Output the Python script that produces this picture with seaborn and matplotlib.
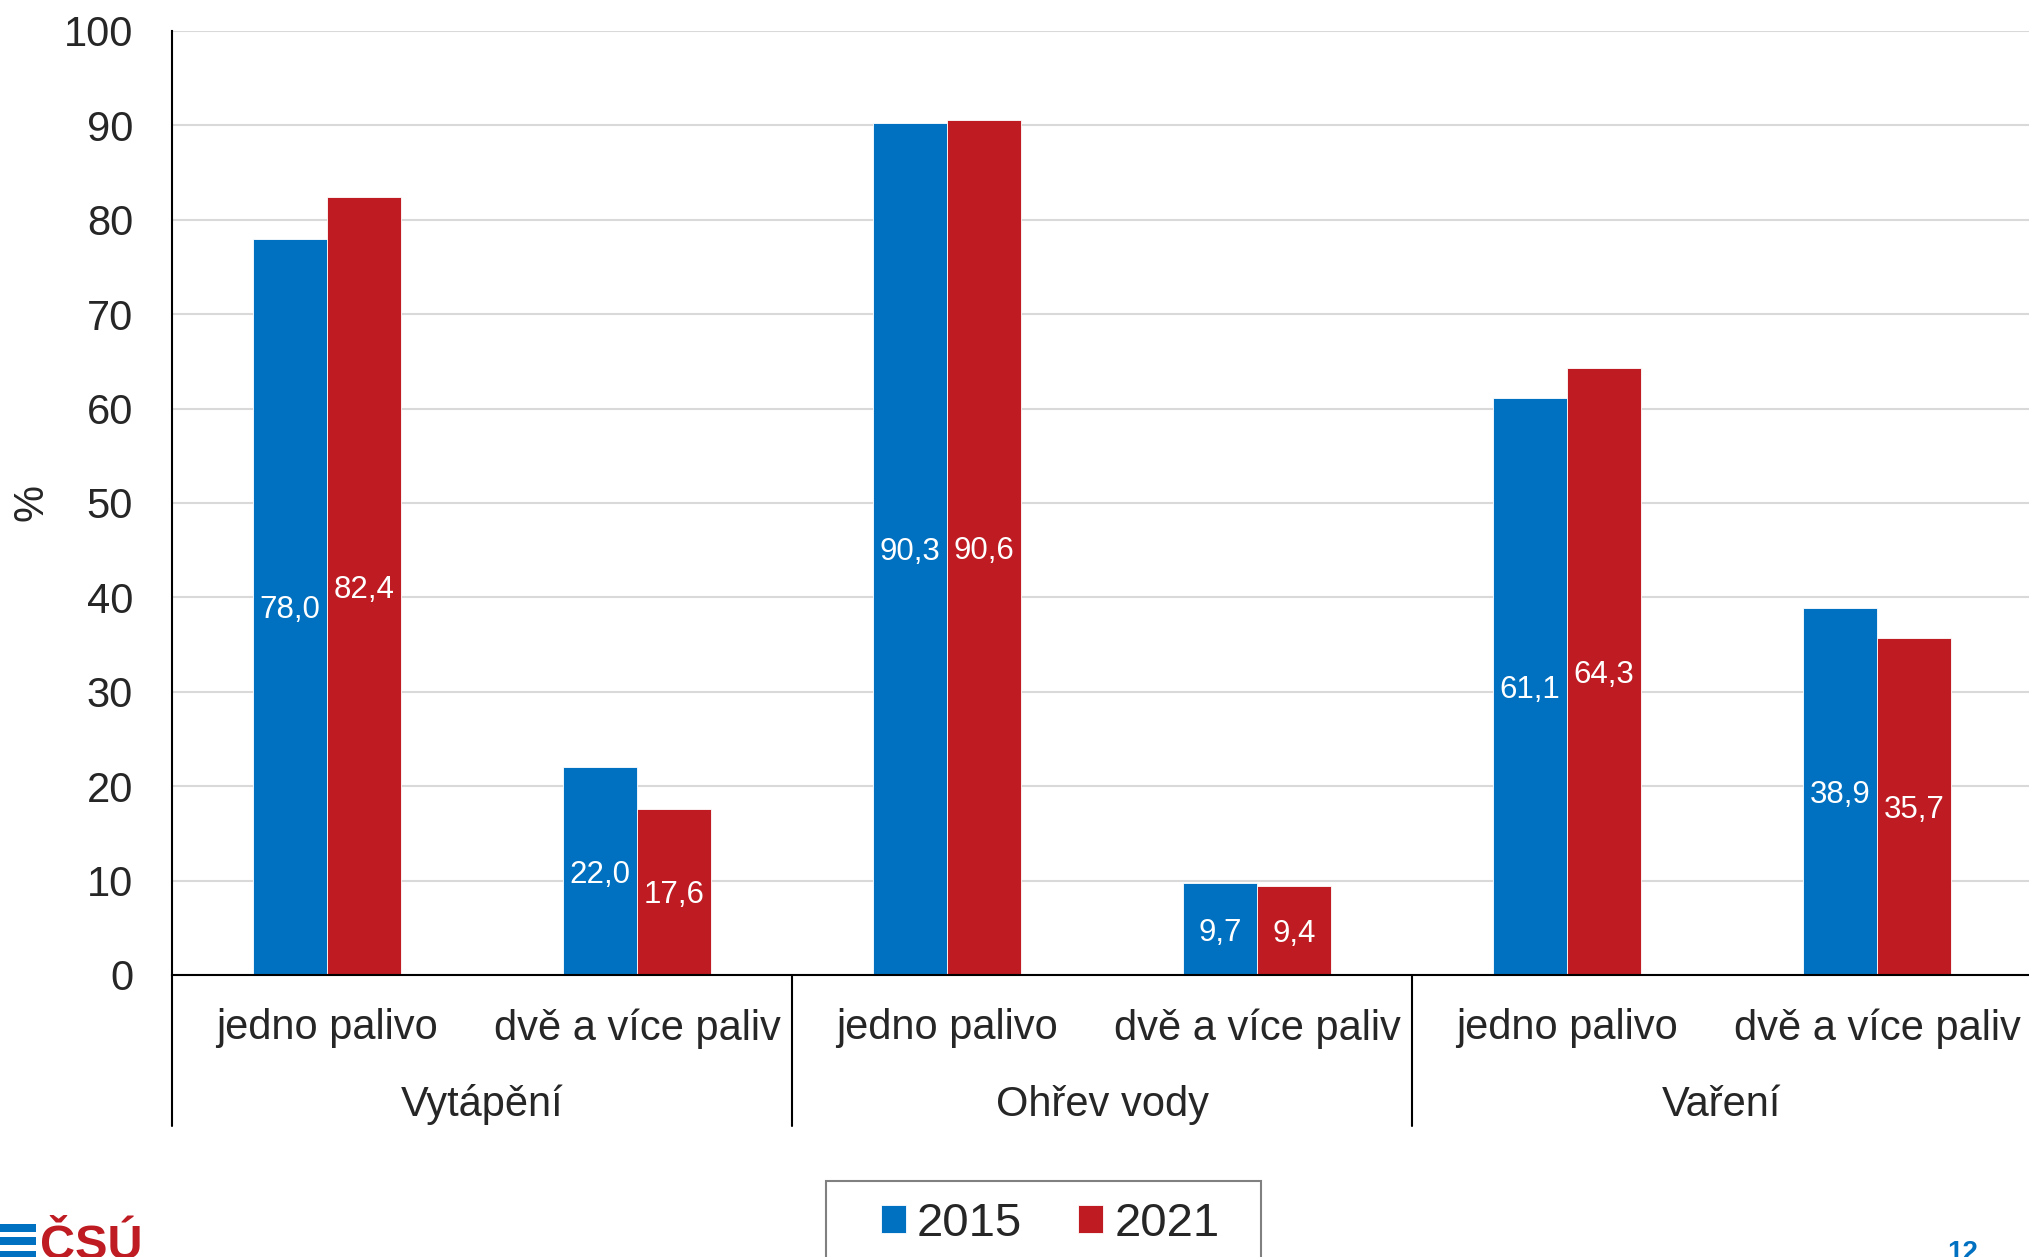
import matplotlib
matplotlib.use("Agg")
import matplotlib.pyplot as plt
import matplotlib.transforms as mtransforms
from matplotlib.patches import Rectangle
import seaborn as sns
import pandas as pd

# ---- data ----
groups = ["Vytápění", "Ohřev vody", "Vaření"]
subcats = ["jedno palivo", "dvě a více paliv"]
years = ["2015", "2021"]
values_2015 = [78.0, 22.0, 90.3, 9.7, 61.1, 38.9]
values_2021 = [82.4, 17.6, 90.6, 9.4, 64.3, 35.7]
y_ticks = [0, 10, 20, 30, 40, 50, 60, 70, 80, 90, 100]
colors = ["#0070C0", "#BE1B22"]

sns.set_style("white")
plt.rcParams["font.family"] = ["Liberation Sans", "DejaVu Sans"]

keys = [f"{g}|{s}" for g in groups for s in subcats]
tick_labels = [s for g in groups for s in subcats]
df = pd.DataFrame({
    "key": keys * 2,
    "value": values_2015 + values_2021,
    "year": [years[0]] * len(keys) + [years[1]] * len(keys),
})

W, H = 2029, 1257
fig = plt.figure(figsize=(W / 100, H / 100), dpi=100)
ax = fig.add_axes([172 / W, 1 - 975 / H, 1860 / W, 944 / H])

sns.barplot(data=df, x="key", y="value", hue="year", order=keys, hue_order=years,
            palette=colors, width=0.477, saturation=1, errorbar=None,
            edgecolor="white", linewidth=0.6, legend=False, ax=ax)

ax.set_xlim(-0.5, 5.5)
ax.set_ylim(0, 100)
ax.set_yticks(y_ticks)
ax.set_yticklabels([str(t) for t in y_ticks], fontsize=30)
ax.set_xticks(range(len(keys)))
ax.set_xticklabels(tick_labels, fontsize=30)
ax.tick_params(axis="y", length=0, pad=28)
ax.tick_params(axis="x", length=0, pad=24)
ax.set_xlabel("")
ax.set_ylabel("%", fontsize=30, va="center", ha="center")
ax.yaxis.set_label_coords(-0.0753, 0.501)

ax.yaxis.grid(True, color="#d9d9d9", linewidth=1.5)
ax.set_axisbelow(True)
for s in ["top", "right"]:
    ax.spines[s].set_visible(False)
for s in ["left", "bottom"]:
    ax.spines[s].set_color("black")
    ax.spines[s].set_linewidth(1.5)

for cont, vals in zip(ax.containers, [values_2015, values_2021]):
    texts = ax.bar_label(cont, labels=[f"{v:.1f}".replace(".", ",") for v in vals],
                         label_type="center", color="white", fontsize=22.5)
    for t in texts:
        t.set_va("center_baseline")

# group separators and labels
trans = mtransforms.blended_transform_factory(ax.transData, ax.transAxes)
for xs in [-0.5, 1.5, 3.5, 5.5]:
    ax.plot([xs, xs], [0, -0.16], transform=trans, color="black", lw=1.5, clip_on=False)
for i, g in enumerate(groups):
    ax.text(2 * i + 0.5, -0.1375, g, transform=trans, ha="center", va="center", fontsize=30)

# legend
fig.legend(handles=list(ax.containers), labels=years, loc="upper left",
           bbox_to_anchor=(881 / W, 1 - 1202 / H), frameon=False, ncol=2,
           fontsize=34, handlelength=0.53, handleheight=0.53, handletextpad=0.23,
           columnspacing=1.19, borderpad=0, borderaxespad=0)
fig.add_artist(Rectangle((826 / W, 1 - 1300 / H), (1261 - 826) / W, (1300 - 1181) / H,
                         transform=fig.transFigure, fill=False, edgecolor="#808080", lw=1.5))

# logo and page number
for y0, y1 in [(1224, 1232), (1237, 1245), (1251, 1260)]:
    fig.add_artist(Rectangle((0, 1 - y1 / H), 36 / W, (y1 - y0) / H,
                             transform=fig.transFigure, color="#0070C0", lw=0))
fig.text(40 / W, 1 - 1259 / H, "ČSÚ", color="#BE1B22", fontsize=35, fontweight="bold",
         va="baseline", ha="left")
fig.text(1947 / W, 1 - 1260 / H, "12", color="#0070C0", fontsize=20, fontweight="bold",
         va="baseline", ha="left")

fig.savefig("out.png", dpi=100)
